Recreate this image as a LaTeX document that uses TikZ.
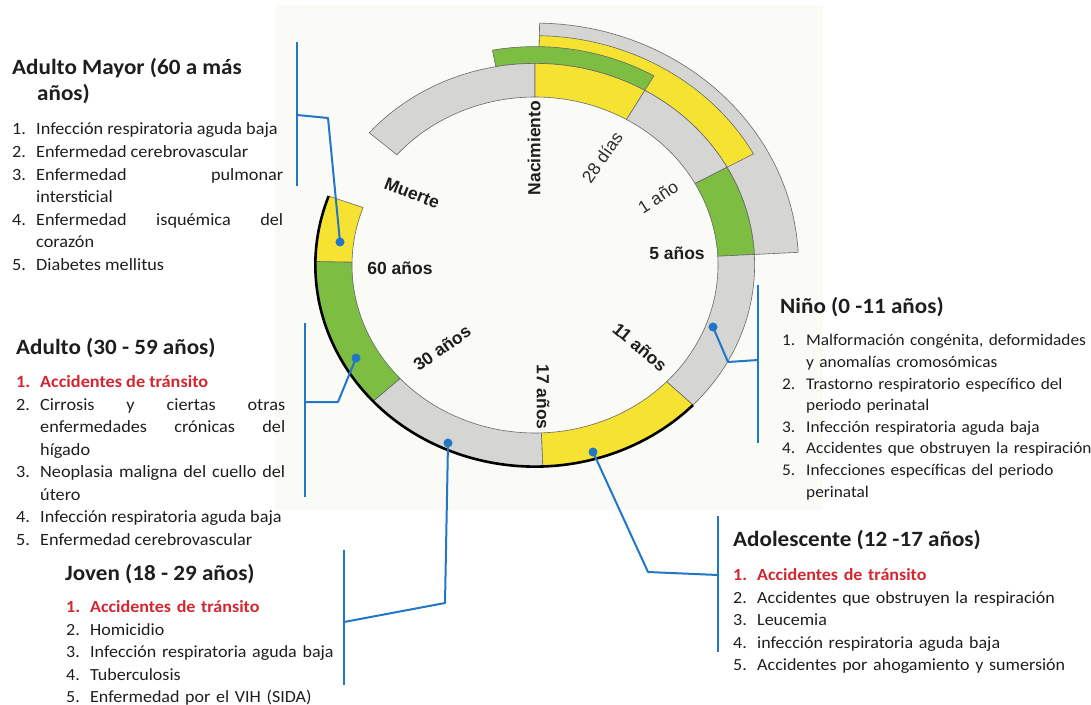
\documentclass[tikz,border=0pt]{standalone}
\usepackage{fontspec}
\setmainfont{Carlito}
\newfontfamily\calfont[FakeStretch=1.06]{Carlito}
\newfontfamily\lblfont{Liberation Sans}
\definecolor{ringgray}{RGB}{213,213,211}
\definecolor{ringyellow}{RGB}{246,226,48}
\definecolor{ringgreen}{RGB}{125,189,66}
\definecolor{ringline}{RGB}{105,105,105}
\definecolor{linkblue}{RGB}{33,118,199}
\definecolor{txtred}{RGB}{210,38,48}
\definecolor{bgc}{RGB}{250,250,246}
\definecolor{txt}{RGB}{30,30,30}
\definecolor{lbltxt}{RGB}{45,45,45}
\newlength\numw
\setlength\numw{24pt}
\newcommand\itm[2]{\par\noindent\hangindent=\numw\hangafter=1\rule{0pt}{17pt}\makebox[\numw][l]{#1}#2}
\newcommand\reditm[2]{\par\noindent\hangindent=\numw\hangafter=1\rule{0pt}{17pt}{\color{txtred}\bfseries\makebox[\numw][l]{#1}#2}}
\newcommand\listsetup{\lineskiplimit=-\maxdimen\tolerance=9999\hbadness=10000\relax}
\newcommand\ringseg[5]{\filldraw[fill=#5,draw=ringline,line width=0.6pt,line join=round] (#1:#3) -- (#1:#4) arc[start angle=#1,end angle=#2,radius=#4] -- (#2:#3) arc[start angle=#2,end angle=#1,radius=#3] -- cycle;}
\begin{document}
\begin{tikzpicture}[x=1pt,y=-1pt,
  lbl/.style={font=\lblfont\bfseries\fontsize{17.5}{20}\selectfont, text=txt, inner sep=0pt},
  lblr/.style={font=\lblfont\fontsize{17.5}{20}\selectfont, text=lbltxt, inner sep=0pt},
  ttl/.style={anchor=base west, inner sep=0pt, text=txt, font=\calfont\bfseries\fontsize{21.8}{25}\selectfont},
  listj/.style={anchor=north west, inner sep=0pt, text width=#1, align=justify, text=txt},
  listr/.style={anchor=north west, inner sep=0pt, text width=#1, align=left, text=txt},
  dot/.style={circle, fill=linkblue, inner sep=0pt, minimum size=9pt},
  link/.style={draw=linkblue, line width=2pt, line join=round}]
\useasboundingbox (0,0) rectangle (1091,704);
\fill[bgc] (275,5) rectangle (823,510);
% ring
\begin{scope}[shift={(535,265)}, x=183pt, y=168pt]
  \ringseg{3}{89}{1.2}{1.44}{ringgray}
  \ringseg{29}{89}{1.2}{1.365}{ringyellow}
  \ringseg{60}{100.3}{1.2}{1.30}{ringgreen}
  \ringseg{139}{90}{1}{1.2}{ringgray}
  \ringseg{90}{60}{1}{1.2}{ringyellow}
  \ringseg{60}{29}{1}{1.2}{ringgray}
  \ringseg{29}{3}{1}{1.2}{ringgreen}
  \ringseg{3}{-44}{1}{1.2}{ringgray}
  \ringseg{-44}{-88}{1}{1.2}{ringyellow}
  \ringseg{-88}{-137.5}{1}{1.2}{ringgray}
  \ringseg{-137.5}{-181}{1}{1.2}{ringgreen}
  \ringseg{-181}{-200}{1}{1.2}{ringyellow}
  \draw[line width=2.6pt, black] (160:1.2) arc[start angle=160, end angle=316, radius=1.2];
\end{scope}
% ring labels
\node[lbl, rotate=90] (nac) at (534,148) {Nacimiento};
\node[lblr, rotate=55] (d28) at (602,157) {28 días};
\node[lblr, rotate=33] (a1) at (658,197) {1 año};
\node[lbl] (a5) at (677,253) {5 años};
\node[lbl, rotate=-40] (a11) at (640,347) {11 años};
\node[lbl, rotate=-90] (a17) at (543,397) {17 años};
\node[lbl, rotate=35] (a30) at (442,348) {30 años};
\node[lbl] (a60) at (400,268) {60 años};
\node[lbl, rotate=-21] (mue) at (412,193) {Muerte};
% dots
\node[dot] (dAM) at (340,242) {};
\node[dot] (dAD) at (356,358) {};
\node[dot] (dJO) at (448,443) {};
\node[dot] (dAO) at (593,452) {};
\node[dot] (dNI) at (713,327) {};
% connectors
\coordinate (amT) at (297,42); \coordinate (amB) at (297,186);
\coordinate (amJ) at (297,115); \coordinate (amK) at (328,118);
\draw[link] (amT) -- (amB); \draw[link] (amJ) -- (amK) -- (dAM.center);
\coordinate (adT) at (305,323); \coordinate (adB) at (305,497);
\coordinate (adJ) at (305,402); \coordinate (adK) at (338,402);
\draw[link] (adT) -- (adB); \draw[link] (adJ) -- (adK) -- (dAD.center);
\coordinate (joT) at (344,550); \coordinate (joB) at (344,685);
\coordinate (joJ) at (344,622); \coordinate (joK) at (445,603);
\draw[link] (joT) -- (joB); \draw[link] (joJ) -- (joK) -- (dJO.center);
\coordinate (aoT) at (718,516); \coordinate (aoB) at (718,652);
\coordinate (aoJ) at (718,575); \coordinate (aoK) at (648,572);
\draw[link] (aoT) -- (aoB); \draw[link] (aoJ) -- (aoK) -- (dAO.center);
\coordinate (niT) at (758,285); \coordinate (niB) at (758,443);
\coordinate (niJ) at (758,360); \coordinate (niK) at (728,362);
\draw[link] (niT) -- (niB); \draw[link] (niJ) -- (niK) -- (dNI.center);
% titles
\node[ttl] (tAM) at (12,74) {Adulto Mayor (60 a más};
\node[ttl] (tAM2) at (37,100) {años)};
\node[ttl] (tAD) at (16,354) {Adulto (30 - 59 años)};
\node[ttl] (tJO) at (65,580) {Joven (18 - 29 años)};
\node[ttl] (tNI) at (780,313) {Niño (0 -11 años)};
\node[ttl] (tAO) at (733,546) {Adolescente (12 -17 años)};
% lists
\node[listj=271pt, font=\calfont\fontsize{17.2}{22.6}\selectfont] (lAM) at (12,112) {\listsetup
\itm{1.}{Infección respiratoria aguda baja}
\itm{2.}{Enfermedad cerebrovascular}
\itm{3.}{Enfermedad pulmonar\linebreak intersticial}
\itm{4.}{Enfermedad isquémica del\linebreak corazón}
\itm{5.}{Diabetes mellitus}\par};
\node[listj=269pt, font=\calfont\fontsize{17.2}{22.5}\selectfont] (lAD) at (16,365) {\listsetup
\reditm{1.}{Accidentes de tránsito}
\itm{2.}{Cirrosis y ciertas otras\linebreak enfermedades crónicas del\linebreak hígado}
\itm{3.}{Neoplasia maligna del cuello del\linebreak útero}
\itm{4.}{Infección respiratoria aguda baja}
\itm{5.}{Enfermedad cerebrovascular}\par};
\node[listr=320pt, font=\calfont\fontsize{17}{22.5}\selectfont] (lJO) at (66,590) {\listsetup
\reditm{1.}{Accidentes de tránsito}
\itm{2.}{Homicidio}
\itm{3.}{Infección respiratoria aguda baja}
\itm{4.}{Tuberculosis}
\itm{5.}{Enfermedad por el VIH (SIDA)}\par};
\node[listr=330pt, font=\calfont\fontsize{16.3}{21.6}\selectfont] (lNI) at (782,324) {\listsetup
\itm{1.}{Malformación congénita, deformidades\newline y anomalías cromosómicas}
\itm{2.}{Trastorno respiratorio específico del\newline periodo perinatal}
\itm{3.}{Infección respiratoria aguda baja}
\itm{4.}{Accidentes que obstruyen la respiración}
\itm{5.}{Infecciones específicas del periodo\newline perinatal}\par};
\node[listr=350pt, font=\calfont\fontsize{17}{22.5}\selectfont] (lAO) at (733,558) {\listsetup
\reditm{1.}{Accidentes de tránsito}
\itm{2.}{Accidentes que obstruyen la respiración}
\itm{3.}{Leucemia}
\itm{4.}{infección respiratoria aguda baja}
\itm{5.}{Accidentes por ahogamiento y sumersión}\par};
\end{tikzpicture}
\end{document}
